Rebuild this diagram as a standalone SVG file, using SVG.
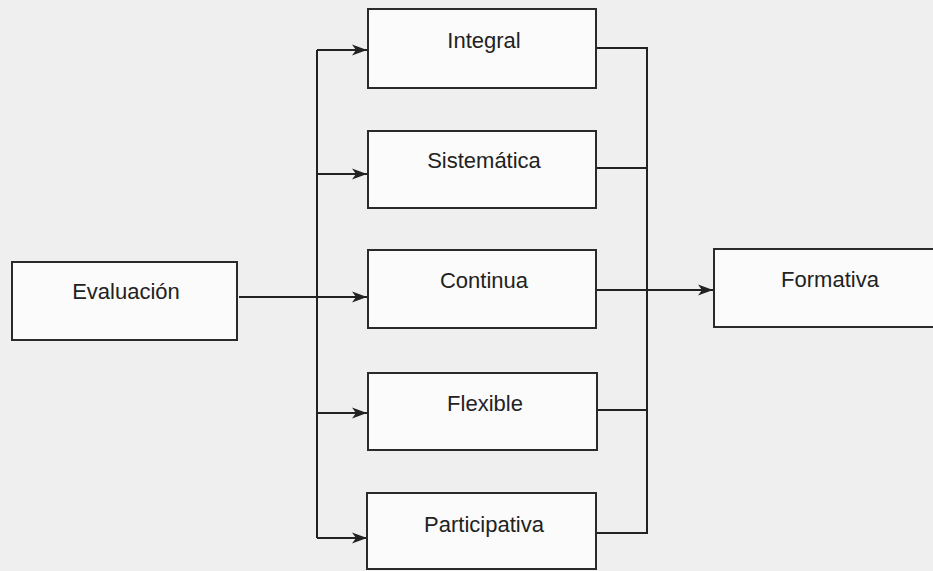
<svg xmlns="http://www.w3.org/2000/svg" width="933" height="571" viewBox="0 0 933 571">
<defs>
<marker id="arr" markerWidth="16" markerHeight="12" refX="15" refY="6" orient="auto" markerUnits="userSpaceOnUse">
<path d="M0,0.5 L15,6 L0,11.5 L4,6 Z" fill="#222"/>
</marker>
</defs>
<style>
.box{fill:#fbfbfb;stroke:#2a2a2a;stroke-width:2}
.lbl{font-family:"Liberation Sans",Arial,sans-serif;font-size:22px;fill:#222;text-anchor:middle}
.ln{fill:none;stroke:#222;stroke-width:2}
.ar{fill:none;stroke:#222;stroke-width:2;marker-end:url(#arr)}
</style>
<rect width="933" height="571" fill="#efefef"/>
<g id="connectors">
<path class="ln" d="M317,50 V538"/>
<path class="ar" d="M317,50 H367"/>
<path class="ar" d="M317,174 H367"/>
<path class="ar" d="M317,413 H367"/>
<path class="ar" d="M317,538 H367"/>
<path class="ar" d="M239,297 H367"/>
<path class="ln" d="M596,48 H647 V533 H596"/>
<path class="ln" d="M596,168 H647"/>
<path class="ln" d="M596,410 H647"/>
<path class="ar" d="M596,290 H713"/>
</g>
<g id="evaluacion">
<rect class="box" x="12" y="262" width="225" height="78"/>
<text class="lbl" x="126" y="299">Evaluación</text>
</g>
<g id="integral">
<rect class="box" x="368" y="9" width="228" height="79"/>
<text class="lbl" x="484" y="48">Integral</text>
</g>
<g id="sistematica">
<rect class="box" x="368" y="131" width="228" height="77"/>
<text class="lbl" x="484" y="168">Sistemática</text>
</g>
<g id="continua">
<rect class="box" x="368" y="250" width="228" height="78"/>
<text class="lbl" x="484" y="288">Continua</text>
</g>
<g id="flexible">
<rect class="box" x="368" y="373" width="229" height="77"/>
<text class="lbl" x="485" y="411">Flexible</text>
</g>
<g id="participativa">
<rect class="box" x="367" y="493" width="229" height="76"/>
<text class="lbl" x="484" y="532">Participativa</text>
</g>
<g id="formativa">
<rect class="box" x="714" y="249" width="230" height="78"/>
<text class="lbl" x="830" y="287">Formativa</text>
</g>
</svg>
